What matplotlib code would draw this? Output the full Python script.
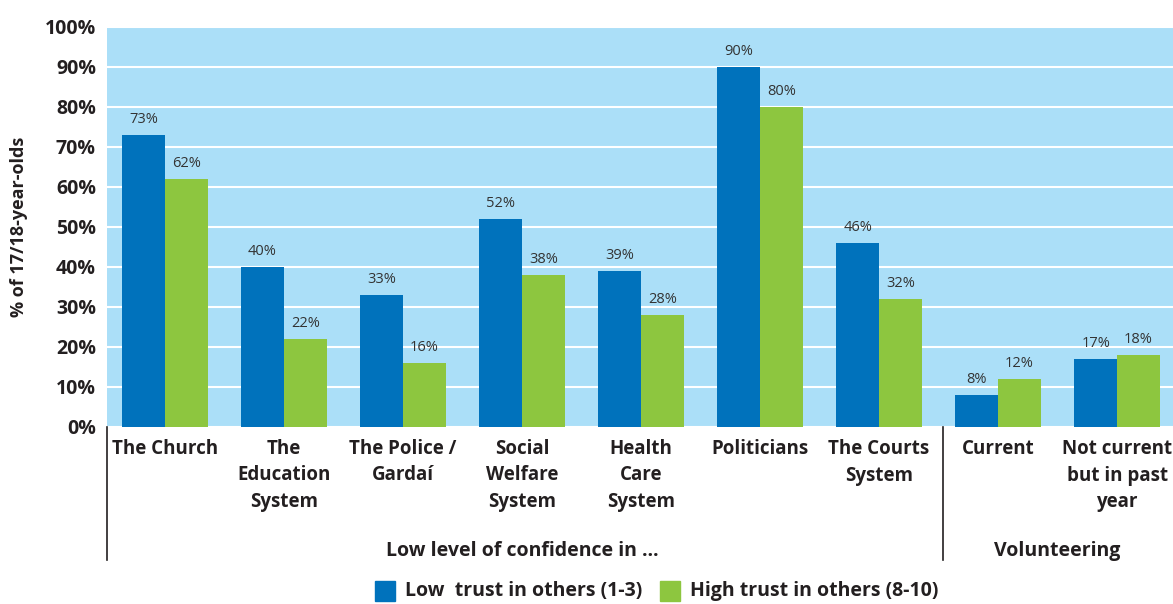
import matplotlib
matplotlib.use("Agg")
import matplotlib.pyplot as plt
import numpy as np
from matplotlib.patches import Rectangle

categories = ["The Church", "The\nEducation\nSystem", "The Police /\nGardaí",
              "Social\nWelfare\nSystem", "Health\nCare\nSystem", "Politicians",
              "The Courts\nSystem", "Current", "Not current\nbut in past\nyear"]
low_trust = [73, 40, 33, 52, 39, 90, 46, 8, 17]
high_trust = [62, 22, 16, 38, 28, 80, 32, 12, 18]
series_names = ["Low  trust in others (1-3)", "High trust in others (8-10)"]
group_names = ["Low level of confidence in \u2026", "Volunteering"]
yticks = [0, 10, 20, 30, 40, 50, 60, 70, 80, 90, 100]

BLUE = "#0072bc"
GREEN = "#8dc63f"
BG = "#abdff8"
TXT = "#231f20"
FONT = "Open Sans"

W, H = 1173, 604
fig = plt.figure(figsize=(W / 100, H / 100), dpi=100)
ax = fig.add_axes([107 / W, 1 - 427 / H, (1173 - 107) / W, 400 / H])
ax.set_facecolor(BG)

x = np.arange(len(categories))
bw = 0.36
ax.bar(x - bw / 2, low_trust, bw, color=BLUE, zorder=3)
ax.bar(x + bw / 2, high_trust, bw, color=GREEN, zorder=3)

for xi, v in zip(x, low_trust):
    ax.text(xi - bw / 2, v + 2.0, f"{v}%", ha="center", va="bottom",
            fontsize=10.5, color="#333333", family=FONT)
for xi, v in zip(x, high_trust):
    ax.text(xi + bw / 2, v + 2.0, f"{v}%", ha="center", va="bottom",
            fontsize=10.5, color="#333333", family=FONT)

ax.set_xlim(-0.487, 8.47)
ax.set_ylim(0, 100)
ax.set_yticks(yticks)
ax.set_yticklabels([f"{t}%" for t in yticks], fontsize=14, fontweight="bold",
                   color=TXT, family=FONT)
ax.yaxis.grid(True, color="white", linewidth=1.5, zorder=1)
ax.tick_params(axis="y", length=0, pad=8)
ax.set_xticks(x)
ax.set_xticklabels(categories, fontsize=13.5, fontweight="bold", color=TXT,
                   family=FONT, linespacing=1.4)
ax.tick_params(axis="x", length=0, pad=9)
for s in ax.spines.values():
    s.set_visible(False)

ax.set_ylabel("% of 17/18-year-olds", fontsize=13, fontweight="bold",
              color=TXT, family=FONT, labelpad=12)

# separator lines
trans = ax.get_xaxis_transform()
for xv in [-0.487, 6.5 + 0.04]:
    ax.plot([xv, xv], [0, -0.333], color=TXT, linewidth=1.2,
            transform=trans, clip_on=False)

ax.text(3.0, -0.31, group_names[0], transform=trans, ha="center",
        va="center", fontsize=14, fontweight="bold", color=TXT, family=FONT)
ax.text(7.5, -0.31, group_names[1], transform=trans, ha="center",
        va="center", fontsize=14, fontweight="bold", color=TXT, family=FONT)

# legend
yl = 1 - 591 / H
for (x0, col, name) in [(375, BLUE, series_names[0]), (660, GREEN, series_names[1])]:
    fig.patches.append(Rectangle((x0 / W, 1 - 601 / H), 20 / W, 20 / H,
                                 color=col, transform=fig.transFigure))
    fig.text((x0 + 30) / W, yl, name, ha="left", va="center", fontsize=14,
             fontweight="bold", color=TXT, family=FONT)

fig.savefig("out.png", dpi=100, facecolor="white")
